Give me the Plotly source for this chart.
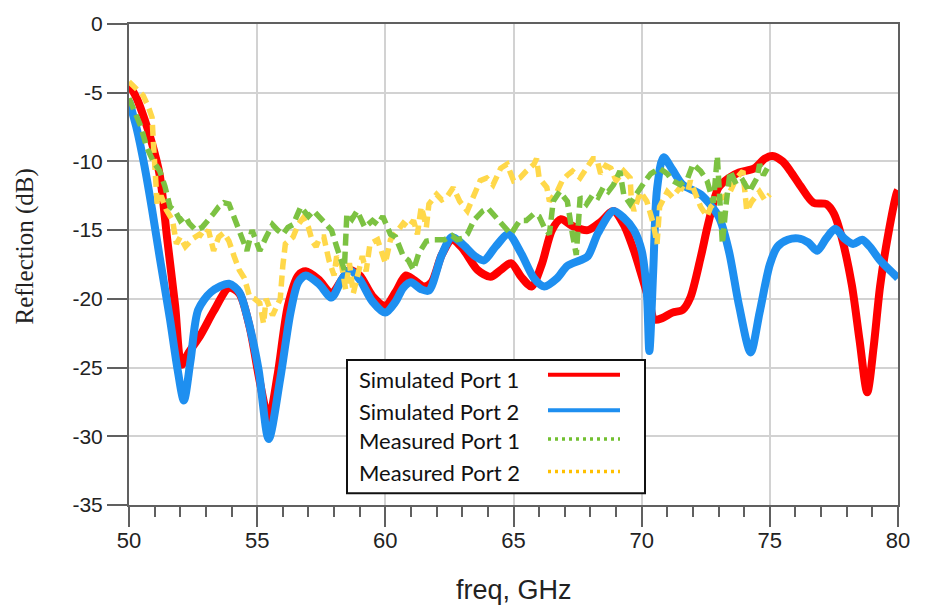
import plotly.graph_objects as go

# ---------------- data ----------------
f_sim1 = [50.0, 50.3, 50.6, 50.9, 51.2, 51.5, 51.8, 52.05, 52.3, 52.8, 53.3, 53.9, 54.3, 54.7, 55.1, 55.45,
          55.8, 56.2, 56.6, 56.9, 57.4, 57.9, 58.3, 58.6, 59.0, 59.5, 60.0, 60.4, 60.8, 61.1, 61.5, 61.8,
          62.2, 62.6, 63.0, 63.6, 64.1, 64.5, 64.9, 65.3, 65.7, 66.1, 66.5, 66.85, 67.3, 67.9, 68.4, 68.9,
          69.3, 69.7, 70.0, 70.3, 70.5, 70.8, 71.2, 71.6, 71.9, 72.3, 72.6, 73.0, 73.4, 73.8, 74.4, 74.8,
          75.1, 75.5, 75.8, 76.2, 76.7, 77.2, 77.5, 77.8, 78.2, 78.5, 78.8, 79.05, 79.3, 79.6, 79.95, 80.0]
sim_port1 = [-4.4, -5.4, -6.9, -8.7, -11.0, -15.8, -20.5, -24.8, -24.0, -22.6, -20.9, -19.2, -19.6, -22.0, -26.0, -28.7,
             -25.5, -20.5, -18.3, -18.0, -18.6, -19.6, -18.6, -17.9, -18.3, -19.8, -20.5, -19.5, -18.3, -18.6, -19.1, -18.8,
             -16.8, -15.7, -16.3, -17.9, -18.4, -17.9, -17.4, -18.4, -19.1, -17.5, -15.0, -14.2, -14.7, -15.0, -14.4, -13.6,
             -14.6, -16.5, -18.3, -20.2, -21.5, -21.4, -21.0, -20.8, -19.9, -17.0, -14.5, -11.9, -11.2, -10.8, -10.5, -9.8,
             -9.6, -10.0, -10.7, -11.8, -13.0, -13.1, -13.8, -15.5, -19.0, -23.0, -26.8, -23.5, -19.1, -15.5, -12.3, -12.1]

f_sim2 = [50.0, 50.3, 50.6, 50.9, 51.2, 51.6, 51.9, 52.14, 52.4, 52.7, 53.2, 53.9, 54.3, 54.6, 55.05, 55.45,
          55.9, 56.3, 56.6, 56.9, 57.4, 57.9, 58.3, 58.6, 59.0, 59.5, 60.0, 60.4, 60.7, 61.0, 61.4, 61.7,
          62.2, 62.6, 63.0, 63.5, 63.85, 64.3, 64.8, 65.3, 65.8, 66.2, 66.7, 67.1, 67.6, 67.9, 68.3, 68.9,
          69.3, 69.7, 70.0, 70.2, 70.3, 70.45, 70.6, 70.85, 71.2, 71.6, 72.3, 73.0, 73.4, 73.8, 74.25, 74.6,
          75.0, 75.3, 75.7, 76.1, 76.5, 76.85, 77.2, 77.55, 77.9, 78.25, 78.6, 78.9, 79.3, 79.95, 80.0]
sim_port2 = [-5.6, -7.6, -10.3, -13.5, -17.0, -21.5, -25.2, -27.4, -24.5, -20.8, -19.5, -18.9, -19.5, -21.2, -25.1, -30.2,
             -25.8, -21.0, -18.8, -18.3, -18.9, -19.9, -18.6, -17.9, -18.6, -20.2, -21.0, -20.2, -19.2, -18.8, -19.3, -19.4,
             -16.8, -15.5, -16.0, -16.9, -17.2, -16.2, -15.3, -16.7, -18.5, -19.1, -18.5, -17.6, -17.2, -16.9, -15.2, -13.6,
             -14.1, -15.0, -16.5, -19.5, -23.8, -18.0, -12.0, -9.7, -10.6, -11.7, -12.4, -14.0, -16.5, -20.5, -23.9, -21.0,
             -17.5, -16.2, -15.7, -15.6, -15.9, -16.5, -15.6, -14.9, -15.6, -16.0, -15.7, -16.2, -17.2, -18.4, -18.5]

f_meas1 = [50.0, 50.2, 50.45, 50.7, 50.95, 51.2, 51.4, 51.6, 51.8, 52.0, 52.2, 52.35, 52.6, 52.85, 53.1, 53.3,
           53.5, 53.7, 53.9, 54.2, 54.4, 54.6, 54.8, 55.1, 55.35, 55.6, 55.8, 56.0, 56.2, 56.4, 56.7, 57.0,
           57.2, 57.4, 57.6, 57.9, 58.1, 58.3, 58.4, 58.5, 58.7, 58.9, 59.2, 59.5, 59.7, 59.9, 60.2, 60.4,
           60.7, 60.9, 61.1, 61.3, 61.6, 61.9, 62.3, 62.6, 62.8, 63.0, 63.2, 63.45, 63.8, 64.0, 64.2, 64.5,
           64.7, 64.9, 65.1, 65.25, 65.5, 65.8, 66.0, 66.2, 66.4, 66.55, 66.8, 67.1, 67.3, 67.45, 67.6, 67.85,
           68.1, 68.3, 68.5, 68.7, 68.9, 69.15, 69.3, 69.55, 69.75, 69.95, 70.15, 70.35, 70.7, 71.0, 71.2, 71.5,
           71.8, 72.0, 72.3, 72.55, 72.8, 72.95, 73.05, 73.15, 73.3, 73.45, 73.7, 73.95, 74.2, 74.5, 74.6, 74.75, 74.9]
meas_port1 = [-5.4, -6.3, -7.4, -9.0, -10.0, -10.7, -11.8, -13.3, -13.6, -14.3, -14.0, -14.5, -15.0, -14.8, -14.3, -13.8,
              -13.3, -13.0, -13.1, -14.5, -15.3, -16.5, -15.0, -16.5, -15.5, -14.6, -15.0, -15.3, -14.8, -14.6, -13.3, -14.0,
              -13.6, -14.0, -14.3, -15.0, -16.2, -17.2, -17.9, -13.8, -14.2, -13.6, -14.8, -14.3, -14.6, -14.0, -15.3, -15.5,
              -16.9, -17.2, -17.9, -16.7, -15.8, -15.7, -15.7, -15.4, -15.7, -15.6, -15.3, -14.3, -13.6, -13.4, -13.8, -14.5,
              -14.9, -15.3, -14.7, -14.3, -14.3, -13.8, -14.0, -14.8, -15.3, -12.9, -12.2, -12.9, -15.3, -16.8, -12.6, -13.1,
              -12.4, -12.6, -11.9, -12.2, -11.7, -10.7, -12.4, -13.1, -12.5, -11.9, -11.4, -10.9, -10.5, -10.9, -11.4, -11.7,
              -11.2, -10.2, -10.7, -11.4, -13.0, -9.6, -12.5, -16.0, -13.0, -10.7, -11.7, -11.4, -12.2, -11.2, -10.2, -11.0, -10.5]

f_meas2 = [50.0, 50.3, 50.55, 50.75, 50.9, 50.95, 51.0, 51.05, 51.1, 51.25, 51.45, 51.7, 51.85, 52.0, 52.2, 52.5,
           52.75, 52.9, 53.1, 53.3, 53.5, 53.7, 53.9, 54.1, 54.3, 54.5, 54.7, 54.9, 55.1, 55.25, 55.35, 55.6,
           55.75, 55.9, 56.0, 56.1, 56.4, 56.6, 56.8, 57.0, 57.15, 57.3, 57.45, 57.6, 57.8, 58.0, 58.1, 58.3,
           58.45, 58.6, 58.75, 58.9, 59.1, 59.25, 59.4, 59.7, 59.85, 60.0, 60.2, 60.5, 60.7, 60.9, 61.1, 61.25,
           61.4, 61.5, 61.6, 61.7, 62.0, 62.2, 62.4, 62.65, 62.9, 63.2, 63.45, 63.7, 63.95, 64.2, 64.5, 64.75,
           65.0, 65.25, 65.5, 65.8, 65.9, 66.0, 66.3, 66.4, 66.7, 66.9, 67.1, 67.3, 67.6, 67.85, 68.1, 68.25,
           68.4, 68.6, 68.8, 69.0, 69.3, 69.55, 69.6, 69.7, 69.95, 70.2, 70.45, 70.6, 70.7, 71.0, 71.2, 71.5,
           71.8, 71.9, 72.1, 72.3, 72.55, 72.7, 72.95, 73.2, 73.45, 73.7, 73.95, 74.1, 74.3, 74.6, 74.8, 75.0]
meas_port2 = [-4.2, -4.7, -5.2, -6.0, -6.8, -8.6, -10.2, -11.7, -13.1, -12.5, -13.5, -14.3, -16.0, -15.5, -16.2, -15.6,
              -15.3, -15.5, -15.0, -16.5, -15.5, -15.2, -15.8, -16.9, -17.9, -18.5, -19.8, -20.0, -20.3, -21.8, -20.0, -21.2,
              -20.6, -20.0, -17.6, -16.0, -15.5, -14.6, -14.1, -14.8, -15.8, -16.2, -15.5, -15.5, -17.2, -18.3, -16.9, -17.6,
              -19.3, -17.4, -19.6, -18.3, -16.9, -18.0, -16.0, -15.7, -16.6, -17.4, -15.7, -15.0, -14.5, -14.8, -14.3, -15.3,
              -13.3, -14.0, -14.8, -13.1, -12.4, -12.8, -12.6, -11.9, -12.9, -13.6, -12.4, -11.4, -11.2, -11.7, -10.5, -10.2,
              -11.4, -11.2, -10.7, -10.2, -9.8, -11.2, -11.9, -12.9, -12.2, -11.4, -11.0, -10.7, -11.2, -10.5, -9.8, -9.8,
              -10.9, -10.3, -10.5, -11.4, -10.7, -11.2, -12.9, -13.6, -12.2, -12.9, -14.5, -16.0, -13.3, -12.2, -12.6, -11.9,
              -12.2, -11.4, -12.5, -13.3, -14.0, -13.3, -12.8, -12.6, -12.2, -11.2, -10.7, -13.6, -12.9, -12.2, -12.8, -12.4]

series_names = ["Simulated Port 1", "Simulated Port 2", "Measured Port 1", "Measured Port 2"]
x_ticks = [50, 55, 60, 65, 70, 75, 80]
y_ticks = [0, -5, -10, -15, -20, -25, -30, -35]

# ---------------- styles ----------------
RED = "#ff0000"
BLUE = "#1e8ff0"
GREEN = "#7cc242"
YELLOW = "#ffd84a"
AXIS = "#606060"
GRID = "#d2d2d2"

fig = go.Figure()
fig.add_trace(go.Scatter(x=f_sim1, y=sim_port1, mode="lines", name=series_names[0],
                         line=dict(color=RED, width=8, shape="spline", smoothing=0.8)))
fig.add_trace(go.Scatter(x=f_sim2, y=sim_port2, mode="lines", name=series_names[1],
                         line=dict(color=BLUE, width=8, shape="spline", smoothing=0.8)))
fig.add_trace(go.Scatter(x=f_meas2, y=meas_port2, mode="lines", name=series_names[3],
                         line=dict(color=YELLOW, width=5.5, dash="11px,6px")))
fig.add_trace(go.Scatter(x=f_meas1, y=meas_port1, mode="lines", name=series_names[2],
                         line=dict(color=GREEN, width=5.5, dash="12px,6px")))

L, R, T, B = 129, 27, 17.5, 104
W, H = 925, 609
pw, ph = W - L - R, H - T - B


def px(x):
    return (x - L) / pw


def py(y):
    return (H - B - y) / ph


fig.update_layout(
    width=W, height=H,
    margin=dict(l=L, r=R, t=T, b=B),
    paper_bgcolor="white", plot_bgcolor="white",
    showlegend=False,
    font=dict(family="Liberation Sans, Arial, sans-serif", color="#222222"),
)
fig.update_xaxes(range=[50, 80], tickvals=x_ticks, ticktext=[str(v) for v in x_ticks],
                 showgrid=True, gridcolor=GRID, gridwidth=1.5,
                 showline=True, linecolor=AXIS, linewidth=2, mirror=True,
                 ticks="outside", ticklen=20, tickwidth=2, tickcolor=AXIS,
                 ticklabelstandoff=-5,
                 minor=dict(dtick=1, ticks="outside", ticklen=10, tickwidth=2, tickcolor=AXIS, showgrid=False),
                 tickfont=dict(size=22, color="#222222"), zeroline=False)
fig.update_yaxes(range=[-35, 0], tickvals=y_ticks, ticktext=[str(v) for v in y_ticks],
                 showgrid=True, gridcolor=GRID, gridwidth=1.5,
                 showline=True, linecolor=AXIS, linewidth=2, mirror=True,
                 ticks="outside", ticklen=20, tickwidth=2, tickcolor=AXIS,
                 tickfont=dict(size=21, color="#222222"), zeroline=False)

annotations = [
    dict(text="Reflection (dB)", xref="paper", yref="paper", x=px(25), y=py(243),
         textangle=-90, showarrow=False, xanchor="center", yanchor="middle",
         font=dict(family="Liberation Serif, Times New Roman, serif", size=25, color="#222222")),
    dict(text="freq, GHz", xref="paper", yref="paper", x=px(514), y=py(591),
         showarrow=False, xanchor="center", yanchor="middle",
         font=dict(family="Liberation Sans, Arial, sans-serif", size=27, color="#222222")),
]

# custom legend (text left, sample right)
shapes = [dict(type="rect", xref="paper", yref="paper", x0=px(347), x1=px(645), y0=py(493), y1=py(358),
               line=dict(color="#111111", width=2), fillcolor="white", layer="above")]
row_y = [378, 410, 440, 472]
sample_y = [373, 409, 438, 471]
sample_styles = [dict(color=RED, width=4, dash="solid"),
                 dict(color=BLUE, width=4, dash="solid"),
                 dict(color="#72c030", width=3.5, dash="3px,4px"),
                 dict(color="#ffc000", width=3.5, dash="3px,4px")]
for name, ty, sy, st in zip(series_names, row_y, sample_y, sample_styles):
    annotations.append(dict(text=name, xref="paper", yref="paper", x=px(357), y=py(ty),
                            showarrow=False, xanchor="left", yanchor="middle",
                            font=dict(family="Lato, Noto Sans, sans-serif", size=22, color="#111111")))
    shapes.append(dict(type="line", xref="paper", yref="paper", x0=px(548), x1=px(620), y0=py(sy), y1=py(sy),
                       line=st, layer="above"))

fig.update_layout(annotations=annotations, shapes=shapes)
fig.write_html("out.html")
